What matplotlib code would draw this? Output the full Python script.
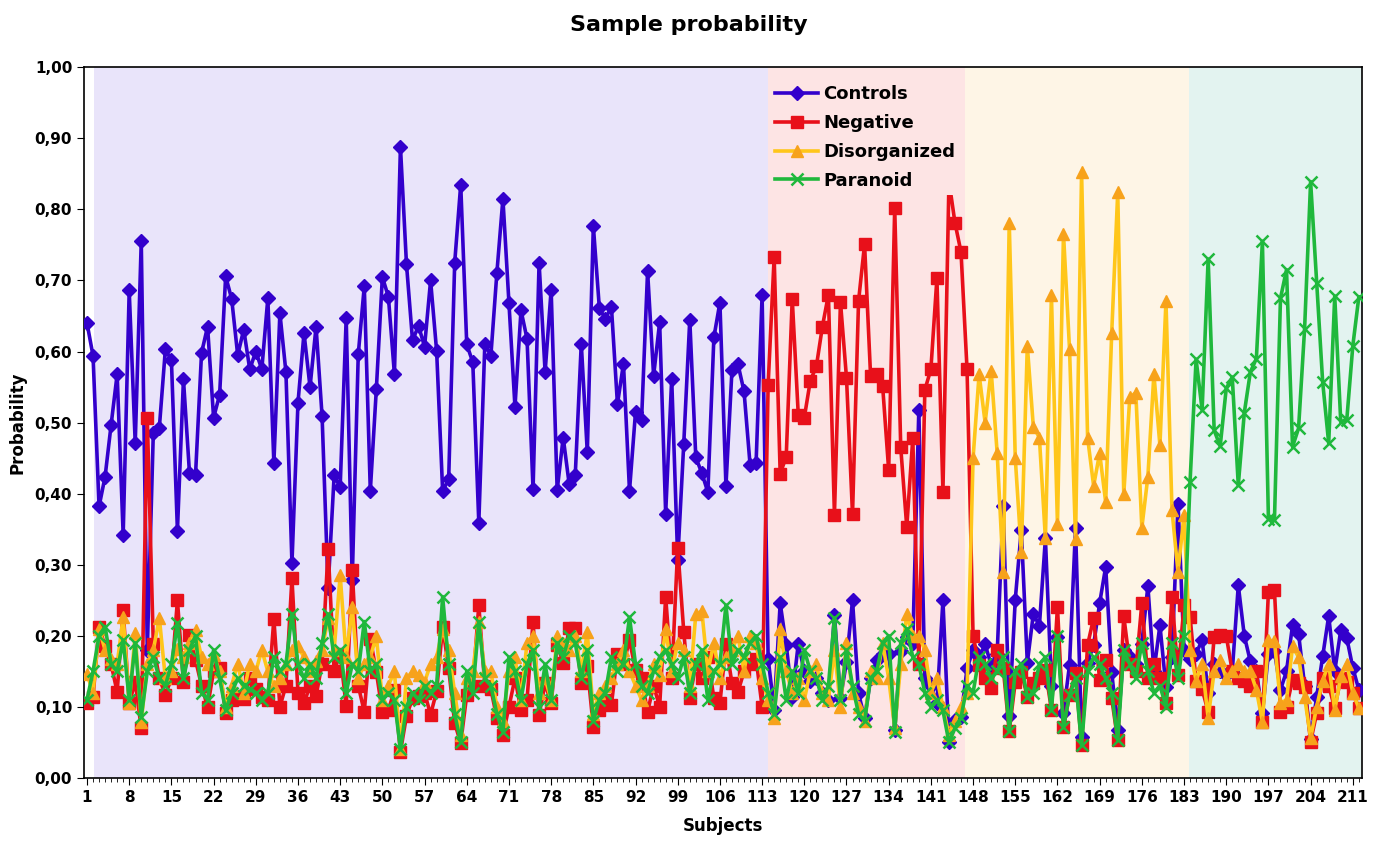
import numpy as np
import matplotlib
matplotlib.use('Agg')
import matplotlib.pyplot as plt

# probabilities per subject (1..212)
controls = [
    0.640, 0.594, 0.382, 0.424, 0.497, 0.568, 0.342, 0.686, 0.471, 0.755,
    0.180, 0.486, 0.493, 0.603, 0.588, 0.348, 0.561, 0.429, 0.426, 0.598,
    0.635, 0.507, 0.539, 0.706, 0.674, 0.595, 0.631, 0.575, 0.600, 0.575,
    0.675, 0.443, 0.654, 0.571, 0.302, 0.528, 0.626, 0.550, 0.635, 0.509,
    0.267, 0.426, 0.409, 0.647, 0.278, 0.596, 0.692, 0.404, 0.547, 0.705,
    0.677, 0.568, 0.888, 0.723, 0.616, 0.636, 0.607, 0.700, 0.601, 0.404,
    0.420, 0.725, 0.835, 0.610, 0.585, 0.359, 0.611, 0.594, 0.711, 0.815,
    0.668, 0.522, 0.658, 0.618, 0.406, 0.725, 0.571, 0.687, 0.405, 0.479,
    0.413, 0.426, 0.611, 0.458, 0.777, 0.661, 0.646, 0.663, 0.526, 0.583,
    0.404, 0.515, 0.503, 0.713, 0.566, 0.641, 0.372, 0.562, 0.307, 0.470,
    0.645, 0.451, 0.429, 0.402, 0.620, 0.669, 0.411, 0.574, 0.582, 0.544,
    0.441, 0.443, 0.679,
    0.168, 0.096, 0.246, 0.187, 0.114, 0.189, 0.150,
    0.136, 0.140, 0.120, 0.110, 0.229, 0.112, 0.163, 0.250, 0.119, 0.084,
    0.140, 0.166, 0.175, 0.175, 0.067, 0.178, 0.199, 0.190, 0.518, 0.140,
    0.129, 0.105, 0.250, 0.051, 0.082, 0.086, 0.154, 0.180, 0.170, 0.188,
    0.159, 0.175, 0.383, 0.087, 0.251, 0.349, 0.162, 0.231, 0.214, 0.337,
    0.130, 0.199, 0.091, 0.159, 0.352, 0.058, 0.162, 0.187, 0.246, 0.297,
    0.149, 0.068, 0.180, 0.170, 0.160, 0.189, 0.270, 0.150, 0.215, 0.128,
    0.170, 0.386, 0.180, 0.168, 0.175, 0.194, 0.120, 0.160, 0.150, 0.145,
    0.150, 0.271, 0.200, 0.164, 0.150, 0.091, 0.175, 0.178, 0.124, 0.150,
    0.215, 0.203, 0.130, 0.055, 0.114, 0.171, 0.228, 0.150, 0.208, 0.197,
    0.155, 0.124,
]

negative = [
    0.105, 0.114, 0.213, 0.185, 0.160, 0.121, 0.236, 0.105, 0.135, 0.070,
    0.506, 0.188, 0.140, 0.117, 0.140, 0.250, 0.135, 0.201, 0.166, 0.130,
    0.100, 0.150, 0.155, 0.091, 0.110, 0.115, 0.111, 0.140, 0.125, 0.114,
    0.110, 0.224, 0.100, 0.130, 0.281, 0.120, 0.105, 0.130, 0.115, 0.161,
    0.322, 0.150, 0.175, 0.101, 0.293, 0.130, 0.093, 0.196, 0.149, 0.093,
    0.095, 0.124, 0.037, 0.087, 0.112, 0.115, 0.120, 0.089, 0.122, 0.213,
    0.154, 0.077, 0.049, 0.117, 0.130, 0.243, 0.130, 0.125, 0.084, 0.060,
    0.100, 0.140, 0.096, 0.110, 0.220, 0.089, 0.133, 0.105, 0.187, 0.162,
    0.211, 0.211, 0.133, 0.157, 0.071, 0.096, 0.110, 0.103, 0.175, 0.160,
    0.194, 0.152, 0.140, 0.093, 0.130, 0.100, 0.255, 0.140, 0.324, 0.206,
    0.112, 0.160, 0.140, 0.170, 0.112, 0.105, 0.188, 0.133, 0.121, 0.150,
    0.161, 0.168, 0.100,
    0.553, 0.733, 0.428, 0.452, 0.674, 0.511, 0.507,
    0.559, 0.579, 0.635, 0.680, 0.370, 0.670, 0.563, 0.371, 0.671, 0.751,
    0.565, 0.569, 0.551, 0.433, 0.802, 0.465, 0.353, 0.478, 0.160, 0.546,
    0.575, 0.703, 0.403, 0.840, 0.781, 0.740, 0.575,
    0.200, 0.159, 0.140,
    0.126, 0.180, 0.155, 0.066, 0.135, 0.149, 0.114, 0.133, 0.140, 0.152,
    0.096, 0.241, 0.071, 0.117, 0.147, 0.046, 0.187, 0.225, 0.138, 0.166,
    0.112, 0.053, 0.228, 0.160, 0.150, 0.246, 0.140, 0.160, 0.140, 0.105,
    0.255, 0.145, 0.243, 0.227, 0.136, 0.125, 0.093, 0.199, 0.201, 0.200,
    0.150, 0.140, 0.136, 0.130, 0.150, 0.079, 0.262, 0.264, 0.093, 0.100,
    0.138, 0.133, 0.128, 0.051, 0.091, 0.140, 0.130, 0.098, 0.140, 0.135,
    0.120, 0.098,
]

disorganized = [
    0.146, 0.120, 0.210, 0.180, 0.168, 0.160, 0.227, 0.105, 0.204, 0.079,
    0.160, 0.180, 0.225, 0.140, 0.150, 0.182, 0.170, 0.190, 0.208, 0.170,
    0.160, 0.173, 0.150, 0.100, 0.130, 0.161, 0.120, 0.161, 0.150, 0.180,
    0.150, 0.130, 0.140, 0.160, 0.180, 0.185, 0.170, 0.150, 0.165, 0.180,
    0.225, 0.180, 0.285, 0.170, 0.240, 0.140, 0.160, 0.170, 0.200, 0.110,
    0.130, 0.150, 0.040, 0.140, 0.150, 0.145, 0.135, 0.160, 0.170, 0.210,
    0.180, 0.120, 0.060, 0.140, 0.150, 0.220, 0.150, 0.150, 0.100, 0.080,
    0.150, 0.170, 0.110, 0.190, 0.200, 0.120, 0.140, 0.110, 0.200, 0.190,
    0.180, 0.200, 0.150, 0.205, 0.090, 0.120, 0.130, 0.140, 0.160, 0.180,
    0.150, 0.130, 0.110, 0.130, 0.160, 0.145, 0.210, 0.150, 0.190, 0.180,
    0.130, 0.230, 0.235, 0.150, 0.190, 0.140, 0.170, 0.180, 0.200, 0.150,
    0.200, 0.190, 0.140,
    0.110, 0.085, 0.210, 0.150, 0.120, 0.140, 0.110,
    0.150, 0.160, 0.120, 0.110, 0.180, 0.100, 0.190, 0.120, 0.100, 0.080,
    0.150, 0.140, 0.190, 0.140, 0.070, 0.160, 0.230, 0.200, 0.200, 0.180,
    0.120, 0.140, 0.100, 0.060, 0.080, 0.100, 0.120,
    0.450, 0.568, 0.500, 0.573, 0.457, 0.290, 0.781, 0.450, 0.318, 0.608,
    0.494, 0.479, 0.337, 0.679, 0.357, 0.766, 0.604, 0.336, 0.852, 0.479,
    0.411, 0.457, 0.388, 0.626, 0.824, 0.399, 0.536, 0.542, 0.352, 0.424,
    0.568, 0.468, 0.671, 0.377, 0.290, 0.370,
    0.180, 0.137, 0.161, 0.084, 0.150, 0.166, 0.140, 0.150, 0.160, 0.150,
    0.150, 0.124, 0.079, 0.194, 0.192, 0.105, 0.110, 0.185, 0.170, 0.114,
    0.056, 0.100, 0.137, 0.161, 0.095, 0.143, 0.161, 0.120, 0.098,
]

paranoid = [
    0.110, 0.150, 0.200, 0.213, 0.160, 0.150, 0.194, 0.110, 0.190, 0.086,
    0.150, 0.170, 0.140, 0.130, 0.160, 0.218, 0.140, 0.180, 0.200, 0.120,
    0.110, 0.180, 0.140, 0.095, 0.120, 0.140, 0.130, 0.125, 0.120, 0.110,
    0.120, 0.170, 0.150, 0.160, 0.231, 0.160, 0.140, 0.160, 0.140, 0.190,
    0.230, 0.170, 0.180, 0.120, 0.160, 0.150, 0.220, 0.150, 0.160, 0.110,
    0.120, 0.110, 0.040, 0.100, 0.120, 0.110, 0.130, 0.120, 0.130, 0.255,
    0.160, 0.090, 0.050, 0.150, 0.120, 0.220, 0.140, 0.130, 0.090, 0.065,
    0.170, 0.150, 0.110, 0.160, 0.180, 0.100, 0.160, 0.110, 0.190, 0.170,
    0.200, 0.190, 0.140, 0.180, 0.080, 0.110, 0.120, 0.170, 0.150, 0.160,
    0.226, 0.160, 0.130, 0.120, 0.150, 0.170, 0.180, 0.160, 0.140, 0.170,
    0.120, 0.160, 0.180, 0.110, 0.150, 0.160, 0.243, 0.160, 0.180, 0.170,
    0.190, 0.200, 0.160,
    0.120, 0.090, 0.170, 0.110, 0.150, 0.120, 0.180,
    0.150, 0.140, 0.110, 0.130, 0.225, 0.110, 0.180, 0.130, 0.090, 0.080,
    0.140, 0.150, 0.190, 0.200, 0.065, 0.190, 0.210, 0.170, 0.160, 0.120,
    0.100, 0.110, 0.095, 0.050, 0.070, 0.085, 0.130,
    0.120, 0.170, 0.160,
    0.140, 0.150, 0.170, 0.066, 0.150, 0.160, 0.114, 0.120, 0.160, 0.170,
    0.096, 0.200, 0.071, 0.117, 0.140, 0.046, 0.150, 0.170, 0.160, 0.140,
    0.120, 0.053, 0.180, 0.160, 0.140, 0.190, 0.150, 0.120, 0.130, 0.100,
    0.190, 0.140, 0.200,
    0.417, 0.589, 0.518, 0.730, 0.489, 0.467, 0.548, 0.564, 0.412, 0.514,
    0.571, 0.590, 0.755, 0.365, 0.363, 0.675, 0.715, 0.466, 0.492, 0.632,
    0.839, 0.697, 0.557, 0.471, 0.678, 0.501, 0.504, 0.608, 0.677,
]

# coloured group bands (subject index where each band starts/ends)
band_edges = [2.2, 114.0, 146.7, 183.9, 212.6]
band_colors = ['#e9e4fa', '#fde4e4', '#fef5e6', '#e3f3f0']

subjects = np.arange(1, len(controls) + 1)

fig = plt.figure(figsize=(13.77, 8.41), dpi=100)
ax = fig.add_axes([0.061, 0.075, 0.928, 0.845])

for i in range(len(band_colors)):
    ax.axvspan(band_edges[i], band_edges[i + 1], color=band_colors[i], lw=0, zorder=0)

ax.plot(subjects, controls, color='#3300cc', lw=2.6, marker='D', ms=7.5,
        label='Controls', zorder=3)
ax.plot(subjects, negative, color='#e8101a', lw=2.6, marker='s', ms=8.5,
        label='Negative', zorder=3)
ax.plot(subjects, disorganized, color='#ffc61a', lw=2.6, marker='^', ms=9,
        mfc='#f7a21b', mec='#f7a21b', label='Disorganized', zorder=3)
ax.plot(subjects, paranoid, color='#1fb83c', lw=2.6, marker='x', ms=9, mew=1.8,
        label='Paranoid', zorder=3)

ax.set_xlim(0.5, len(controls) + 0.5)
ax.set_ylim(0, 1.0)
yt = np.arange(0, 1.01, 0.1)
ax.set_yticks(yt)
ax.set_yticklabels([('%.2f' % v).replace('.', ',') for v in yt])
ax.set_xticks(np.arange(1, len(controls) + 1, 7))
ax.set_xticks(subjects, minor=True)
ax.tick_params(axis='x', which='minor', length=3, width=0.6)
ax.tick_params(axis='both', which='major', labelsize=11, length=5)
for t in ax.get_xticklabels() + ax.get_yticklabels():
    t.set_fontweight('bold')
for s in ax.spines.values():
    s.set_linewidth(1.2)

ax.set_xlabel('Subjects', fontsize=12, fontweight='bold', labelpad=9)
ax.set_ylabel('Probability', fontsize=12, fontweight='bold', labelpad=6)
fig.suptitle('Sample probability', fontsize=16, fontweight='bold', y=0.982)

leg = ax.legend(loc='upper left', bbox_to_anchor=(0.535, 0.985), frameon=True,
                facecolor='#fde4e4', edgecolor='none', framealpha=1,
                prop={'weight': 'bold', 'size': 13}, handlelength=2.4,
                borderpad=0.3, labelspacing=0.6, handletextpad=0.3,
                borderaxespad=0.1)
leg.set_zorder(5)

fig.savefig('out.png', dpi=100)
